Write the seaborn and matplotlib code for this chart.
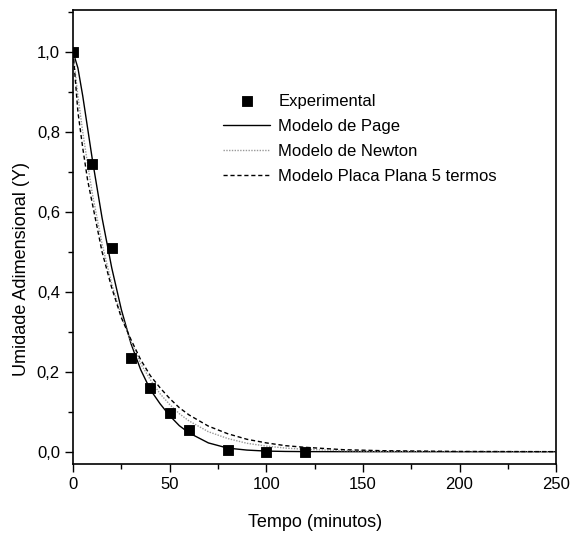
import numpy as np
import pandas as pd
import matplotlib
matplotlib.use("Agg")
import matplotlib.pyplot as plt
import seaborn as sns
from matplotlib.ticker import MultipleLocator, FuncFormatter

# experimental points
t_exp = [0, 10, 20, 30, 40, 50, 60, 80, 100, 120]
y_exp = [1.0, 0.72, 0.51, 0.235, 0.16, 0.097, 0.055, 0.005, 0.0, 0.0]

# model curves
t_mod = [0, 2.5, 5, 7.5, 10, 15, 20, 25, 30, 35, 40, 45, 50, 55, 60, 70, 80,
         90, 100, 110, 120, 140, 160, 200, 250]
y_page = [1.0, 0.96, 0.89, 0.81, 0.73, 0.585, 0.46, 0.355, 0.27, 0.205, 0.155,
          0.12, 0.09, 0.065, 0.047, 0.022, 0.009, 0.004, 0.0015, 0.0006, 0.0002,
          0.0, 0.0, 0.0, 0.0]
y_newton = [1.0, 0.89, 0.80, 0.72, 0.645, 0.52, 0.42, 0.34, 0.275, 0.22, 0.18,
            0.145, 0.118, 0.095, 0.077, 0.05, 0.033, 0.021, 0.014, 0.009, 0.006,
            0.0025, 0.001, 0.0002, 0.0]
y_placa = [1.0, 0.85, 0.76, 0.68, 0.62, 0.5, 0.41, 0.335, 0.28, 0.23, 0.19,
           0.16, 0.133, 0.11, 0.092, 0.064, 0.045, 0.031, 0.022, 0.015, 0.011,
           0.005, 0.0025, 0.0006, 0.0001]

sns.set_style("ticks")
plt.rcParams['font.family'] = ['Liberation Sans', 'DejaVu Sans']
plt.rcParams['text.color'] = 'black'
plt.rcParams['axes.labelcolor'] = 'black'
plt.rcParams['xtick.color'] = 'black'
plt.rcParams['ytick.color'] = 'black'

fig = plt.figure(figsize=(5.71, 5.60), dpi=100)
ax = fig.add_axes([0.128, 0.172, 0.846, 0.81])

df_mod = pd.DataFrame({"t": t_mod, "page": y_page, "newton": y_newton, "placa": y_placa})

sns.lineplot(data=df_mod, x="t", y="page", ax=ax, color="black", lw=1.0,
             label="Modelo de Page")
sns.lineplot(data=df_mod, x="t", y="newton", ax=ax, color="#999999", lw=1.0,
             linestyle=(0, (1, 1)), label="Modelo de Newton")
sns.lineplot(data=df_mod, x="t", y="placa", ax=ax, color="black", lw=1.0,
             linestyle=(0, (3, 2)), label="Modelo Placa Plana 5 termos")
sns.scatterplot(x=t_exp, y=y_exp, ax=ax, marker="s", s=60, color="black",
                edgecolor="black", label="Experimental", zorder=5)

ax.set_xlim(0, 250)
ax.set_ylim(-0.03, 1.105)
ax.xaxis.set_major_locator(MultipleLocator(50))
ax.xaxis.set_minor_locator(MultipleLocator(25))
ax.yaxis.set_major_locator(MultipleLocator(0.2))
ax.yaxis.set_minor_locator(MultipleLocator(0.1))
ax.yaxis.set_major_formatter(FuncFormatter(lambda v, p: f"{v:.1f}".replace(".", ",")))
ax.tick_params(which="major", direction="out", length=6, width=1, labelsize=12)
ax.tick_params(which="minor", direction="out", length=3.5, width=1)
for s in ax.spines.values():
    s.set_linewidth(1.2)
    s.set_color("black")

ax.set_xlabel("Tempo (minutos)", fontsize=13, labelpad=16)
ax.set_ylabel("Umidade Adimensional (Y)", fontsize=13)
ax.yaxis.set_label_coords(-0.09, 0.43)

h, l = ax.get_legend_handles_labels()
order = [3, 0, 1, 2]
ax.legend([h[i] for i in order], [l[i] for i in order], frameon=False,
          fontsize=12, loc="upper left", bbox_to_anchor=(0.297, 0.83),
          handlelength=2.8, handletextpad=0.5, labelspacing=0.6, borderaxespad=0)

fig.savefig("out.png", dpi=100)
